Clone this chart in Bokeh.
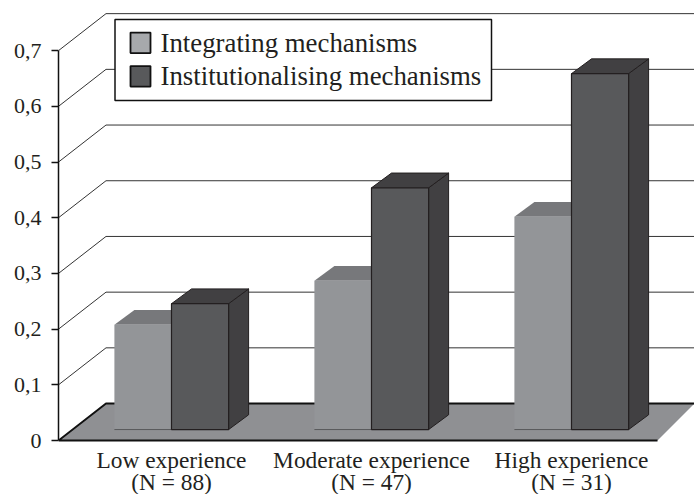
from bokeh.plotting import figure
from bokeh.models import Range1d, FixedTicker
from bokeh.core.properties import value
from bokeh.embed import file_html
from bokeh.resources import INLINE

categories = ["Low experience", "Moderate experience", "High experience"]
sample_sizes = ["(N = 88)", "(N = 47)", "(N = 31)"]
integrating = [0.188, 0.267, 0.382]
institutionalising = [0.226, 0.434, 0.639]
y_ticks = [0, 0.1, 0.2, 0.3, 0.4, 0.5, 0.6, 0.7]
y_labels = ["0", "0,1", "0,2", "0,3", "0,4", "0,5", "0,6", "0,7"]
series_names = ["Integrating mechanisms", "Institutionalising mechanisms"]

FONT = "Liberation Serif"
TXT = "#231f20"

# projection constants, in data units
x0, x1 = -0.565, 2.615
wall_dx, wall_dy = 0.2375, 0.0664
floor_right = 2.43
bw = 0.2855
base = 0.0197
bar_dx, bar_dy = 0.1, 0.0265

p = figure(width=694, height=494, output_backend="svg", toolbar_location=None,
           x_range=Range1d(x0, x1), y_range=Range1d(-0.0969, 0.79),
           min_border_left=58, min_border_right=0, min_border_top=0, min_border_bottom=0)
p.grid.visible = False
p.outline_line_color = None
p.background_fill_color = "white"
p.xaxis.visible = False

# y axis
ya = p.yaxis[0]
ya.ticker = FixedTicker(ticks=y_ticks)
ya.major_label_overrides = dict(zip(y_ticks, y_labels))
ya.bounds = (0, 0.7)
ya.axis_line_color = "#111111"
ya.axis_line_width = 1.5
ya.major_tick_line_color = "#111111"
ya.major_tick_line_width = 1.5
ya.major_tick_in = 0
ya.major_tick_out = 7
ya.minor_tick_line_color = None
ya.major_label_standoff = 10
ya.major_label_text_font = FONT
ya.major_label_text_font_size = "22px"
ya.major_label_text_color = TXT

# category labels
xs = list(range(len(categories)))
for labels, off in ((categories, 19), (sample_sizes, 41)):
    p.text(x=xs, y=[0] * len(xs), text=labels, text_font=value(FONT), text_font_size="23.4px",
           text_color=TXT, text_align="center", text_baseline="middle", y_offset=off)

# walls
for t in y_ticks[1:]:
    p.line([x0, x0 + wall_dx, x1], [t, t + wall_dy, t + wall_dy], line_color="#333333", line_width=1)

# floor
p.patch([x0, x0 + wall_dx, x1, floor_right], [0, wall_dy, wall_dy, 0],
        fill_color="#8f9093", line_color=None)
p.line([floor_right, x0, x0 + wall_dx, x1], [0, 0, wall_dy, wall_dy], line_color="#111111", line_width=2)

# bars
for i in range(len(categories)):
    v, w = integrating[i], institutionalising[i]
    # integrating (light)
    p.patch([i - bw, i - bw + bar_dx, i + bar_dx, i],
            [base + v, base + v + bar_dy, base + v + bar_dy, base + v],
            fill_color="#77787b", line_color=None)
    p.quad(left=i - bw, right=i, bottom=base, top=base + v, fill_color="#939598", line_color=None)
    p.line([i - bw, i], [base, base], line_color="#58595b", line_width=1)
    # institutionalising (dark)
    p.patch([i + bw, i + bw + bar_dx, i + bw + bar_dx, i + bw],
            [base, base + bar_dy, base + w + bar_dy, base + w],
            fill_color="#414042", line_color="#231f20", line_width=1)
    p.patch([i, i + bar_dx, i + bw + bar_dx, i + bw],
            [base + w, base + w + bar_dy, base + w + bar_dy, base + w],
            fill_color="#414042", line_color="#231f20", line_width=1)
    p.quad(left=i, right=i + bw, bottom=base, top=base + w, fill_color="#58595b",
           line_color="#231f20", line_width=1.2)

# legend, placed in pixels of the picture
def X(px):
    return x0 + (px - 58) / 200

def Y(py):
    return (440 - py) / 557

p.quad(left=X(114.5), right=X(491), top=Y(19), bottom=Y(100), fill_color="white",
       line_color="#111111", line_width=1.5)
swatch_colors = ["#a7a9ac", "#58595b"]
swatch_tops = [32, 65.5]
for name, col, st in zip(series_names, swatch_colors, swatch_tops):
    p.quad(left=X(130), right=X(150), top=Y(st), bottom=Y(st + 20.5), fill_color=col,
           line_color="#111111", line_width=1.8)
    p.text(x=[X(160)], y=[Y(st + 10)], text=[name], text_font=value(FONT), text_font_size="26.8px",
           text_color=TXT, text_align="left", text_baseline="middle")

open("out.html", "w").write(file_html(p, INLINE))
